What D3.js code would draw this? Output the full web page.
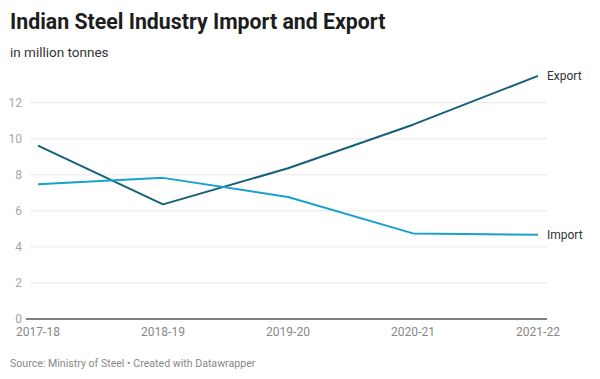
<!DOCTYPE html>
<html><head><meta charset="utf-8">
<script src="https://cdn.jsdelivr.net/npm/d3@7"></script>
<style>
body{margin:0;background:#fff;font-family:Roboto,"Noto Sans",sans-serif;}
</style></head>
<body><svg id="c" width="600" height="379"></svg>
<script>
const categories = ["2017-18","2018-19","2019-20","2020-21","2021-22"];
const exportValues = [9.62, 6.36, 8.36, 10.78, 13.49];
const importValues = [7.48, 7.83, 6.77, 4.75, 4.67];
const yTicks = [0,2,4,6,8,10,12];
const seriesNames = ["Export","Import"];
const seriesColors = ["#15607a","#18a1cd"];

const svg = d3.select("#c");
svg.append("text").attr("x",10).attr("y",29).attr("font-size",21.3).attr("font-weight",700)
  .attr("fill","#1d1d1d").text("Indian Steel Industry Import and Export");
svg.append("text").attr("x",10).attr("y",57).attr("font-size",13.5).attr("fill","#333")
  .text("in million tonnes");
svg.append("text").attr("x",10).attr("y",367).attr("font-size",10.6).attr("fill","#888")
  .text("Source: Ministry of Steel • Created with Datawrapper");

const x = d3.scalePoint().domain(categories).range([38,538]);
const y = d3.scaleLinear().domain([0,12]).range([319,102.7]);

const g = svg.append("g");
yTicks.forEach(t=>{
  if(t>0) g.append("line").attr("x1",30).attr("x2",547).attr("y1",y(t)).attr("y2",y(t))
    .attr("stroke","#e8e8e8").attr("stroke-width",1);
  g.append("text").attr("x",22).attr("y",y(t)).attr("dy","0.35em").attr("text-anchor","end")
    .attr("font-size",12).attr("fill","#a5a5a5").text(t);
});
g.append("line").attr("x1",26).attr("x2",547).attr("y1",y(0)).attr("y2",y(0))
  .attr("stroke","#555").attr("stroke-width",1.5);

categories.forEach(c=>{
  g.append("text").attr("x",x(c)).attr("y",336).attr("text-anchor","middle")
    .attr("font-size",12).attr("fill","#888").text(c);
});

const line = d3.line().x((d,i)=>x(categories[i])).y(d=>y(d));
[exportValues, importValues].forEach((vals,k)=>{
  g.append("path").attr("d",line(vals)).attr("fill","none")
    .attr("stroke",seriesColors[k]).attr("stroke-width",2).attr("stroke-linejoin","round");
  g.append("text").attr("x",547).attr("y",y(vals[vals.length-1])).attr("dy","0.35em")
    .attr("font-size",12).attr("fill","#333").text(seriesNames[k]);
});
</script></body></html>
